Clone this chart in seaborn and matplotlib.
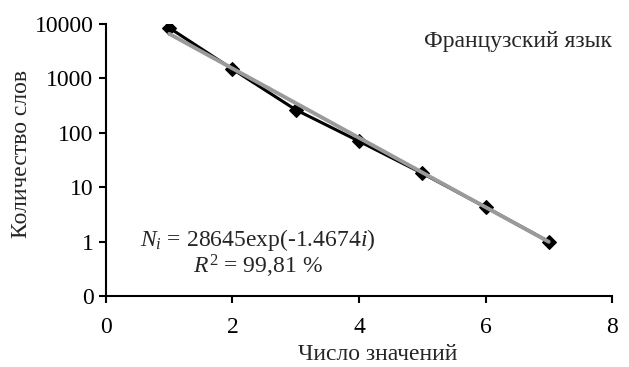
import numpy as np
import seaborn as sns
import matplotlib.pyplot as plt

# число значений слова и количество таких слов (французский язык)
n_meanings = [1, 2, 3, 4, 5, 6, 7]
n_words = [8500, 1480, 265, 70, 18, 4.3, 1.0]

# экспоненциальный тренд N_i = a*exp(b*i)
fit_a = 28645
fit_b = -1.4674
fit_x = [1, 7]

y_ticks = [0.1, 1, 10, 100, 1000, 10000]
y_tick_labels = ['0', '1', '10', '100', '1000', '10000']
x_ticks = [0, 2, 4, 6, 8]

sns.set_style('ticks')
plt.rcParams['font.family'] = ['Liberation Serif', 'DejaVu Serif']
plt.rcParams['mathtext.fontset'] = 'custom'
plt.rcParams['mathtext.rm'] = 'Liberation Serif'
plt.rcParams['mathtext.it'] = 'Liberation Serif:italic'

fs = 17

fig = plt.figure(figsize=(6.29, 3.67), dpi=100)
ax = fig.add_axes([0.1685, 0.1935, 0.8045, 0.7411])

sns.lineplot(x=n_meanings, y=n_words, ax=ax, color='black', linewidth=2.2,
             marker='D', markersize=7, markeredgecolor='black', zorder=3)

fit_y = [fit_a * np.exp(fit_b * x) for x in fit_x]
sns.lineplot(x=fit_x, y=fit_y, ax=ax, color='#9a9a9a', linewidth=2.8, zorder=4)

ax.set_yscale('log')
ax.set_ylim(0.1, 10000)
ax.set_xlim(0, 8)
ax.set_yticks(y_ticks)
ax.set_yticklabels(y_tick_labels)
ax.minorticks_off()
ax.set_xticks(x_ticks)

sns.despine(ax=ax)
for s in ['left', 'bottom']:
    ax.spines[s].set_linewidth(1.5)
    ax.spines[s].set_color('black')
ax.tick_params(axis='both', direction='out', length=5, width=1.5,
               labelsize=fs, colors='black')
ax.tick_params(axis='y', pad=4)
ax.tick_params(axis='x', pad=10)

fig.text(378 / 629, 1 - 355 / 367, 'Число значений', fontsize=fs,
         ha='center', va='center')
fig.text(22 / 629, 1 - 154 / 367, 'Количество слов', fontsize=fs,
         ha='center', va='center', rotation=90)

fig.text(612 / 629, 1 - 42 / 367, 'Французский язык', fontsize=fs,
         ha='right', va='center')
fig.text(140 / 629, 1 - 240 / 367, r'$N_i$ = 28645exp(-1.4674$i$)',
         fontsize=fs, ha='left', va='center')
fig.text(193 / 629, 1 - 266 / 367, r'$R^2$ = 99,81 %', fontsize=fs,
         ha='left', va='center')

fig.savefig('out.png', dpi=100)
